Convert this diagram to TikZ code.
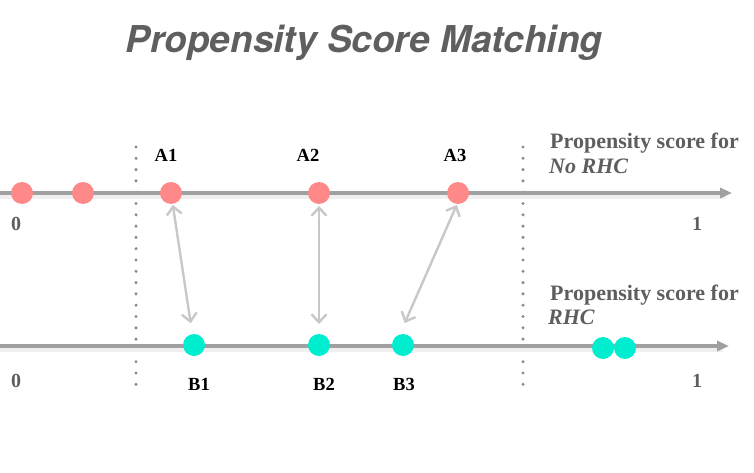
\documentclass[tikz,border=0pt]{standalone}
\usepackage{fontspec}
\setmainfont{Liberation Serif}
\newfontfamily\titlefont{TeX Gyre Heros}
\usetikzlibrary{arrows.meta}
\definecolor{titlegray}{HTML}{5F5F5F}
\definecolor{labgray}{HTML}{5E5E5E}
\definecolor{axisgray}{HTML}{A0A0A0}
\definecolor{arrgray}{HTML}{C8C8C8}
\definecolor{dotgray}{HTML}{8C8C8C}
\definecolor{redpt}{HTML}{FF8888}
\definecolor{cyanpt}{HTML}{00EED0}
\tikzset{
  axisline/.style={draw=axisgray, line width=3.5pt, -{Triangle[length=12pt,width=10pt]}},
  axisshadow/.style={draw=black!6, line width=3.5pt},
  redball/.style={circle, fill=redpt, minimum size=22pt, inner sep=0pt},
  cyanball/.style={circle, fill=cyanpt, minimum size=22pt, inner sep=0pt},
  matcharrow/.style={draw=arrgray, line width=2.4pt, {Straight Barb[length=8pt,width=15pt]}-{Straight Barb[length=8pt,width=15pt]}},
  sepline/.style={draw=dotgray, line width=3.4pt, line cap=round, dash pattern=on 0pt off 11.3pt},
  ptlabel/.style={anchor=base, font=\fontsize{18.5}{20}\selectfont\bfseries, text=black, inner sep=0pt},
  numlabel/.style={anchor=base, font=\fontsize{20}{22}\selectfont\bfseries, text=labgray, inner sep=0pt},
  axlabel/.style={anchor=base west, font=\fontsize{22}{24}\selectfont\bfseries, text=labgray, inner sep=0pt}
}
\begin{document}
\begin{tikzpicture}[x=1pt,y=-1pt]
\useasboundingbox (0,0) rectangle (754,473);
% title
\node[anchor=base, font=\titlefont\fontsize{37}{40}\selectfont\bfseries\itshape, text=titlegray, inner sep=0pt] (title) at (364,53) {Propensity Score Matching};
% separators
\coordinate (s1t) at (136,147); \coordinate (s1b) at (136,386);
\coordinate (s2t) at (523,147); \coordinate (s2b) at (523,386);
\draw[sepline] (s1t) -- (s1b);
\draw[sepline] (s2t) -- (s2b);
% axes
\coordinate (t0) at (0,193); \coordinate (t1) at (732,193);
\coordinate (b0) at (0,346); \coordinate (b1) at (729,346);
\draw[axisshadow] (0,197) -- (726,197);
\draw[axisshadow] (0,350) -- (723,350);
\draw[axisline] (t0) -- (t1);
\draw[axisline] (b0) -- (b1);
% red points
\node[redball] (r1) at (22,193) {};
\node[redball] (r2) at (83,193) {};
\node[redball] (A1) at (171,193) {};
\node[redball] (A2) at (319,193) {};
\node[redball] (A3) at (458,193) {};
% cyan points
\node[cyanball] (B1) at (194,345) {};
\node[cyanball] (B2) at (319,345) {};
\node[cyanball] (B3) at (403,345) {};
\node[cyanball] (c1) at (603,348) {};
\node[cyanball] (c2) at (625,348) {};
% matching arrows
\draw[matcharrow, shorten <=12pt, shorten >=22pt] (A1.center) -- (B1.center);
\draw[matcharrow, shorten <=13pt, shorten >=21pt] (A2.center) -- (B2.center);
\draw[matcharrow, shorten <=13pt, shorten >=24pt] ([xshift=4pt]A3.center) -- ([xshift=-8pt]B3.center);
% point labels
\node[ptlabel] (lA1) at (166,162) {A1};
\node[ptlabel] (lA2) at (308,162) {A2};
\node[ptlabel] (lA3) at (455,162) {A3};
\node[ptlabel] (lB1) at (199,390) {B1};
\node[ptlabel] (lB2) at (324,390) {B2};
\node[ptlabel] (lB3) at (404,390) {B3};
% axis numbers
\node[numlabel] (z1) at (16,230) {0};
\node[numlabel] (o1) at (697,230) {1};
\node[numlabel] (z2) at (16,387) {0};
\node[numlabel] (o2) at (697,387) {1};
% axis titles
\node[axlabel] (ta1) at (550,149) {Propensity score for};
\node[axlabel] (ta2) at (549,173) {\itshape No RHC};
\node[axlabel] (tb1) at (550,300) {Propensity score for};
\node[axlabel] (tb2) at (548,324) {\itshape RHC};
\end{tikzpicture}
\end{document}
